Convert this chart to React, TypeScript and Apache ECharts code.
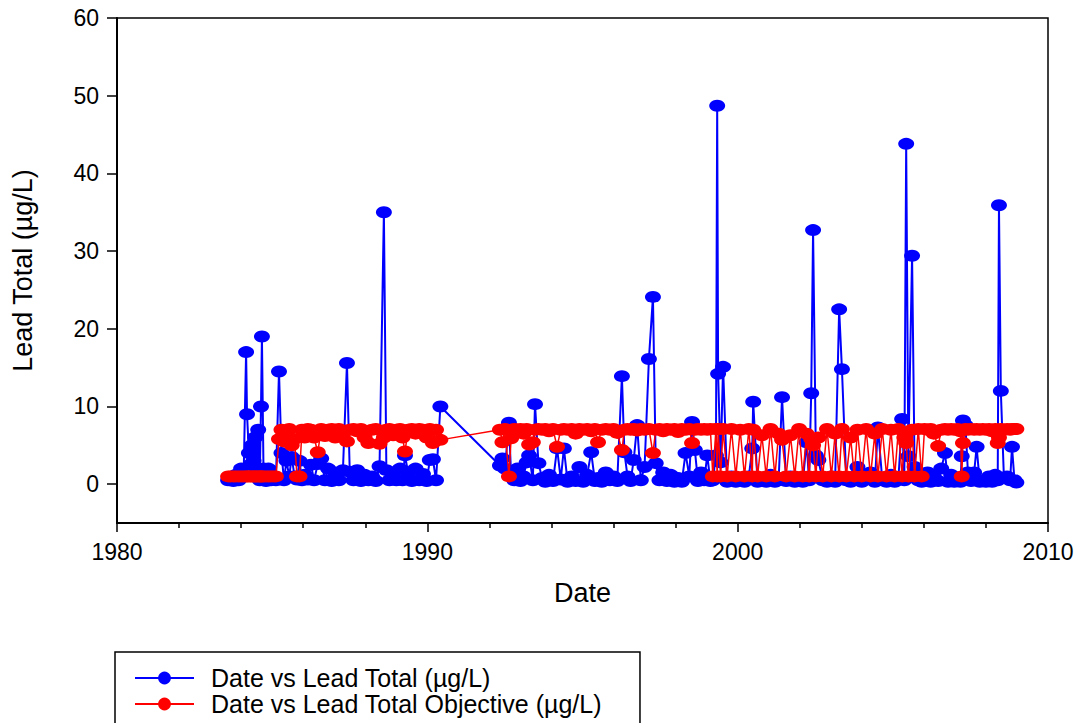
import React, { useEffect, useRef } from 'react';
import * as echarts from 'echarts';

const FONT = '"Liberation Sans", Arial, Helvetica, sans-serif';

const yearLabels = [1980, 1990, 2000, 2010];
const leadTicks = [0, 10, 20, 30, 40, 50, 60];

// 1983 - 1990 sampling
const dates1983 = [
  1983.58, 1983.66, 1983.75, 1983.83, 1983.92, 1984.0, 1984.08, 1984.16, 1984.19, 1984.25,
  1984.3, 1984.35, 1984.4, 1984.45, 1984.5, 1984.55, 1984.6, 1984.64, 1984.67, 1984.72,
  1984.8, 1984.88, 1984.96, 1985.04, 1985.12, 1985.22, 1985.3, 1985.38, 1985.46, 1985.55,
  1985.63, 1985.72, 1985.8, 1985.88, 1985.96, 1986.05, 1986.15, 1986.25, 1986.35, 1986.47,
  1986.58, 1986.7, 1986.8, 1986.92, 1987.03, 1987.15, 1987.28, 1987.41, 1987.5, 1987.62,
  1987.74, 1987.86, 1987.98, 1988.1, 1988.22, 1988.34, 1988.46, 1988.6, 1988.68, 1988.78,
  1988.9, 1989.0, 1989.12, 1989.2, 1989.28, 1989.38, 1989.5, 1989.62, 1989.74, 1989.86,
  1989.98, 1990.08, 1990.18, 1990.28, 1990.42,
];
const total1983 = [
  0.5, 0.8, 0.4, 1.2, 0.5, 2.0, 1.0, 17.0, 9.0, 4.0,
  2.5, 5.0, 3.0, 6.0, 2.0, 7.0, 0.5, 10.0, 19.0, 2.0,
  0.4, 2.0, 0.5, 0.6, 0.5, 14.5, 4.0, 0.5, 3.0, 1.0,
  3.5, 1.0, 0.6, 3.0, 0.5, 1.2, 0.6, 2.5, 0.5, 2.6,
  3.3, 0.5, 2.0, 0.4, 1.5, 0.5, 1.8, 15.6, 1.6, 0.5,
  1.8, 0.4, 1.2, 0.5, 1.0, 0.4, 2.3, 35.0, 1.8, 0.5,
  1.5, 0.5, 2.0, 0.5, 3.7, 1.5, 0.4, 2.0, 0.5, 1.3,
  0.4, 3.1, 3.2, 0.5, 10.0,
];
const objective1983 = [
  1.0, 1.0, 1.0, 1.0, 1.0, 1.0, 1.0, 1.0, 1.0, 1.0,
  1.0, 1.0, 1.0, 1.0, 1.0, 1.0, 1.0, 1.0, 1.0, 1.0,
  1.0, 1.0, 1.0, 1.0, 1.0, 5.8, 7.0, 5.5, 6.2, 7.1,
  5.0, 5.8, 1.0, 1.0, 7.0, 6.0, 7.1, 7.0, 6.0, 4.1,
  7.1, 6.2, 7.0, 7.1, 6.0, 7.1, 6.5, 5.5, 7.0, 7.1,
  6.8, 7.1, 6.0, 5.3, 7.0, 7.1, 5.2, 6.0, 7.0, 7.1,
  6.3, 7.0, 7.1, 6.0, 4.2, 7.0, 7.1, 6.5, 7.1, 7.0,
  6.0, 7.1, 5.3, 7.0, 5.7,
];

// 1992 - 1999 sampling
const dates1992 = [
  1992.34, 1992.42, 1992.5, 1992.63, 1992.7, 1992.8, 1992.9, 1993.0, 1993.1, 1993.2,
  1993.28, 1993.4, 1993.47, 1993.58, 1993.7, 1993.8, 1993.92, 1994.05, 1994.18, 1994.3,
  1994.4, 1994.52, 1994.65, 1994.78, 1994.9, 1995.02, 1995.15, 1995.28, 1995.4, 1995.5,
  1995.62, 1995.75, 1995.88, 1996.0, 1996.12, 1996.27, 1996.35, 1996.45, 1996.55, 1996.65,
  1996.76, 1996.88, 1997.0, 1997.14, 1997.27, 1997.36, 1997.48, 1997.6, 1997.72, 1997.84,
  1997.96, 1998.08, 1998.2, 1998.32, 1998.44, 1998.53, 1998.62, 1998.72, 1998.82, 1998.92,
  1999.02, 1999.12,
];
const total1992 = [
  2.4, 3.3, 2.0, 7.9, 1.0, 0.5, 2.0, 0.4, 1.0, 2.8,
  3.7, 0.5, 10.3, 2.7, 0.8, 0.3, 1.2, 0.4, 4.6, 0.6,
  4.6, 0.3, 1.0, 0.4, 2.2, 0.3, 1.2, 4.1, 0.4, 0.8,
  0.3, 1.5, 0.5, 1.0, 0.4, 13.9, 4.1, 1.0, 0.4, 3.1,
  7.6, 0.5, 2.2, 16.1, 24.1, 2.7, 0.5, 1.5, 0.4, 1.2,
  0.3, 0.8, 0.3, 4.0, 1.0, 8.0, 4.4, 0.4, 1.5, 0.5,
  3.7, 0.4,
];
const objective1992 = [
  7.0, 5.4, 7.1, 1.0, 5.9, 7.1, 7.0, 7.1, 6.5, 7.1,
  5.1, 5.4, 7.0, 7.1, 7.0, 7.1, 6.8, 7.1, 4.8, 7.0,
  7.1, 7.0, 7.1, 6.5, 7.1, 7.0, 7.1, 6.8, 7.1, 5.4,
  7.0, 7.1, 7.0, 7.1, 6.6, 4.4, 7.0, 7.1, 7.0, 7.1,
  6.9, 7.1, 7.0, 7.1, 4.0, 7.0, 7.1, 6.8, 7.1, 7.0,
  7.1, 6.7, 7.1, 7.0, 7.1, 5.3, 7.0, 7.1, 7.0, 7.1,
  7.0, 7.1,
];

// 1999 - 2005 sampling
const dates1999 = [
  1999.2, 1999.3, 1999.34, 1999.37, 1999.45, 1999.53, 1999.66, 1999.8, 1999.94, 2000.08,
  2000.22, 2000.36, 2000.47, 2000.5, 2000.64, 2000.78, 2000.92, 2001.06, 2001.2, 2001.32,
  2001.43, 2001.56, 2001.7, 2001.84, 2001.98, 2002.1, 2002.22, 2002.3, 2002.37, 2002.43,
  2002.52, 2002.6, 2002.74, 2002.88, 2003.02, 2003.14, 2003.27, 2003.36, 2003.5, 2003.64,
  2003.76, 2003.86, 2004.0, 2004.14, 2004.28, 2004.42, 2004.52, 2004.66, 2004.8, 2004.94,
  2005.06, 2005.18, 2005.3, 2005.37, 2005.43, 2005.5, 2005.62, 2005.7, 2005.82, 2005.93,
];
const total1999 = [
  0.5, 3.7, 48.7, 14.2, 2.8, 15.1, 0.3, 1.0, 0.3, 0.6,
  0.3, 1.0, 4.6, 10.6, 0.3, 0.8, 0.3, 1.2, 0.3, 0.5,
  11.2, 0.4, 1.0, 0.3, 0.6, 0.3, 5.4, 0.5, 11.7, 32.7,
  3.7, 3.1, 0.5, 0.3, 1.0, 0.3, 22.5, 14.8, 0.5, 0.3,
  1.0, 2.2, 0.3, 0.8, 1.5, 0.3, 7.3, 0.5, 0.3, 1.2,
  0.3, 0.8, 8.4, 0.5, 43.8, 3.6, 29.4, 2.2, 0.5, 0.3,
];
const objective1999 = [
  1.0, 7.1, 1.0, 7.1, 1.0, 7.1, 1.0, 7.1, 1.0, 7.0,
  1.0, 7.1, 1.0, 7.0, 1.0, 6.3, 1.0, 7.1, 1.0, 6.5,
  5.7, 1.0, 6.3, 1.0, 7.1, 1.0, 6.5, 1.0, 5.8, 5.0,
  1.0, 6.0, 1.0, 7.1, 1.0, 6.5, 1.0, 7.1, 1.0, 6.0,
  1.0, 7.0, 1.0, 7.1, 1.0, 6.5, 1.0, 7.1, 1.0, 7.0,
  1.0, 7.1, 1.0, 6.0, 5.3, 1.0, 7.0, 1.0, 7.1, 1.0,
];

// 2006 - 2009 sampling
const dates2006 = [
  2006.02, 2006.12, 2006.22, 2006.32, 2006.46, 2006.56, 2006.68, 2006.78, 2006.88, 2006.98,
  2007.08, 2007.18, 2007.22, 2007.26, 2007.34, 2007.42, 2007.52, 2007.62, 2007.7, 2007.8,
  2007.9, 2008.0, 2008.1, 2008.2, 2008.3, 2008.38, 2008.42, 2008.48, 2008.58, 2008.68,
  2008.78, 2008.84, 2008.92, 2008.98,
];
const total2006 = [
  0.4, 1.5, 0.3, 1.0, 0.4, 2.0, 4.0, 0.3, 1.2, 0.3,
  0.8, 0.3, 3.6, 8.2, 7.6, 1.5, 0.4, 1.5, 4.8, 0.3,
  0.5, 0.3, 1.0, 0.3, 1.2, 0.5, 35.9, 12.0, 0.8, 1.0,
  0.5, 4.8, 0.5, 0.2,
];
const objective2006 = [
  7.1, 7.0, 7.1, 6.5, 4.9, 7.0, 7.1, 7.0, 7.1, 7.0,
  7.1, 6.8, 1.0, 5.3, 7.1, 7.0, 7.1, 7.0, 7.1, 7.0,
  7.1, 7.0, 7.1, 6.8, 7.1, 5.3, 6.0, 7.1, 7.0, 7.1,
  7.0, 7.1, 7.1, 7.1,
];

export default function App() {
  const ref = useRef<HTMLDivElement>(null);

  useEffect(() => {
    if (!ref.current) return;
    const chart = echarts.init(ref.current, null, { renderer: 'svg' });

    const dates = [...dates1983, ...dates1992, ...dates1999, ...dates2006];
    const total = [...total1983, ...total1992, ...total1999, ...total2006];
    const objective = [...objective1983, ...objective1992, ...objective1999, ...objective2006];
    const totalData = dates.map((d, i) => [d, total[i]]);
    const objectiveData = dates.map((d, i) => [d, objective[i]]);

    chart.setOption({
      animation: false,
      backgroundColor: '#ffffff',
      grid: {
        left: 117,
        right: 28,
        top: 18,
        bottom: 200,
        show: true,
        borderColor: '#000',
        borderWidth: 1.5,
        backgroundColor: 'transparent',
        containLabel: false,
        outerBoundsMode: 'none',
      },
      legend: {
        show: true,
        orient: 'vertical',
        left: 115,
        top: 652,
        height: 140,
        padding: [13, 38, 30, 19],
        itemWidth: 59,
        itemHeight: 16,
        itemGap: 0,
        borderColor: '#000',
        borderWidth: 1.5,
        selectedMode: false,
        textStyle: {
          fontFamily: FONT,
          fontSize: 25,
          color: '#000',
          lineHeight: 26,
          padding: [0, 0, 0, 12],
        },
        data: ['Date vs Lead Total (µg/L)', 'Date vs Lead Total Objective (µg/L)'],
      },
      xAxis: {
        type: 'value',
        min: 1980,
        max: 2010,
        interval: 10,
        position: 'bottom',
        axisLine: { show: true, onZero: false, lineStyle: { color: '#000', width: 2 } },
        axisTick: { show: true, length: 9, lineStyle: { color: '#000', width: 1.5 } },
        minorTick: { show: true, splitNumber: 5, length: 5, lineStyle: { color: '#000', width: 1.5 } },
        splitLine: { show: false },
        minorSplitLine: { show: false },
        axisLabel: {
          margin: 17,
          fontSize: 23,
          color: '#000',
          fontFamily: FONT,
          formatter: (v: number) => (yearLabels.includes(Math.round(v)) ? String(Math.round(v)) : ''),
        },
        name: 'Date',
        nameLocation: 'middle',
        nameGap: 56,
        nameTextStyle: { fontSize: 27, color: '#000', fontFamily: FONT },
      },
      yAxis: {
        type: 'value',
        min: -5,
        max: 60,
        splitNumber: 7,
        axisLine: { show: true, onZero: false, lineStyle: { color: '#000', width: 2 } },
        axisTick: { show: true, length: 10, customValues: leadTicks, lineStyle: { color: '#000', width: 1.5 } },
        splitLine: { show: false },
        axisLabel: {
          margin: 18,
          fontSize: 23,
          color: '#000',
          fontFamily: FONT,
          customValues: leadTicks,
          formatter: (v: number) => String(v),
        },
        name: 'Lead Total (µg/L)',
        nameLocation: 'middle',
        nameGap: 81,
        nameTextStyle: { fontSize: 27, color: '#000', fontFamily: FONT },
      },
      series: [
        {
          name: 'Date vs Lead Total (µg/L)',
          type: 'line',
          data: totalData,
          symbol: 'circle',
          symbolSize: [16, 12],
          showSymbol: true,
          itemStyle: { color: '#0000ff' },
          lineStyle: { color: '#0000ff', width: 2 },
          z: 2,
        },
        {
          name: 'Date vs Lead Total Objective (µg/L)',
          type: 'line',
          data: objectiveData,
          symbol: 'circle',
          symbolSize: [16, 12],
          showSymbol: true,
          itemStyle: { color: '#ff0000' },
          lineStyle: { color: '#ff0000', width: 1.5 },
          z: 3,
        },
      ],
    });

    return () => chart.dispose();
  }, []);

  return (
    <div
      ref={ref}
      style={{ position: 'fixed', left: 0, top: 0, width: 1076, height: 723, background: '#fff' }}
    />
  );
}
